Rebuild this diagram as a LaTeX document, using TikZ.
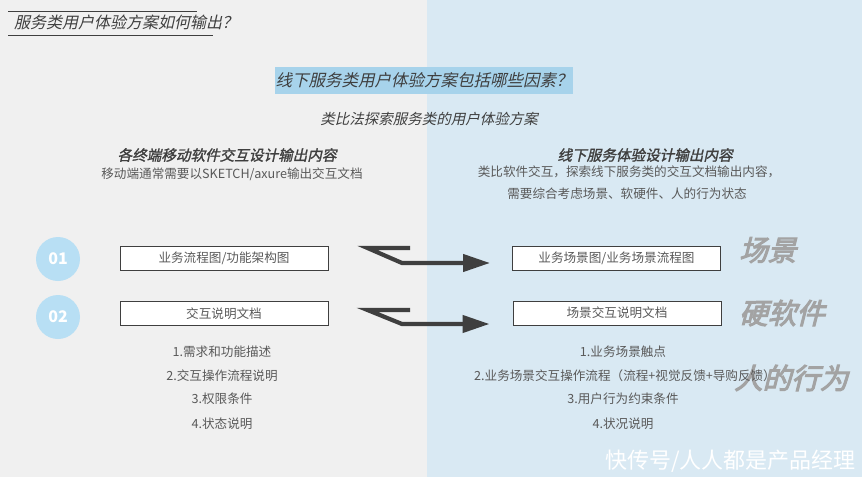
\documentclass[tikz,border=0pt]{standalone}
\usepackage{fontspec}
\setmainfont{Noto Sans CJK SC}
\newfontfamily\cjkit[FakeSlant=0.22]{Noto Sans CJK SC}
\newfontfamily\cjkbi[FakeSlant=0.22,FakeBold=1.5]{Noto Sans CJK SC}
\newfontfamily\cjkbb[FakeSlant=0.25,FakeBold=3.5]{Noto Sans CJK SC}
\usetikzlibrary{arrows.meta}
\definecolor{bgleft}{HTML}{F0F0F0}
\definecolor{bgright}{HTML}{D9E9F3}
\definecolor{hilite}{HTML}{A7D3EB}
\definecolor{circ}{HTML}{B8DFF4}
\definecolor{txt}{HTML}{595959}
\definecolor{dark}{HTML}{3F3F3F}
\definecolor{side}{HTML}{A3A3A3}
\tikzset{
  body/.style={text=txt,font=\fontsize{12.6}{14}\selectfont,inner sep=0pt},
  boxitem/.style={draw=dark,line width=0.9pt,fill=white,minimum width=208pt,minimum height=24pt,inner sep=0pt,text=txt,font=\fontsize{12.6}{14}\selectfont},
  numcirc/.style={circle,fill=circ,minimum size=44pt,inner sep=0pt,text=white,font=\fontsize{16}{16}\selectfont\bfseries},
  heading/.style={text=dark,font=\fontsize{14.6}{16}\cjkbi,inner sep=0pt},
  sidelab/.style={text=side,font=\fontsize{28.5}{30}\cjkbb,inner sep=0pt},
  kink/.style={draw=dark,line width=4.2pt,line join=miter,-{Triangle[length=27pt,width=17pt]}}
}
\begin{document}
\begin{tikzpicture}[x=1pt,y=-1pt]
\path[use as bounding box] (0,0) rectangle (862,477);
\fill[bgleft] (0,0) rectangle (427,477);
\fill[bgright] (427,0) rectangle (862,477);
% title
\node[anchor=west,text=dark,font=\fontsize{16}{18}\cjkit,inner sep=0pt] (title) at (14,22) {服务类用户体验方案如何输出？};
\draw[dark,line width=0.8pt] (8,11) -- (197,11);
\draw[dark,line width=0.8pt] (8,35) -- (213,35);
% highlight
\node[fill=hilite,minimum width=298pt,minimum height=27pt,inner sep=0pt,text=dark,font=\fontsize{16.5}{18}\cjkit] (q) at (424,80.5) {线下服务类用户体验方案包括哪些因素？};
\node[text=dark,font=\fontsize{14.5}{16}\cjkit,inner sep=0pt] (sub) at (429,119) {类比法探索服务类的用户体验方案};
% headings
\node[heading] (lh) at (227,155) {各终端移动软件交互设计输出内容};
\node[body] (ls) at (232,174) {移动端通常需要以SKETCH/axure输出交互文档};
\node[heading] (rh) at (645,155) {线下服务体验设计输出内容};
\node[body] (rs1) at (629,172) {类比软件交互，探索线下服务类的交互文档输出内容，};
\node[body] (rs2) at (627,194) {需要综合考虑场景、软硬件、人的行为状态};
% circles
\node[numcirc] (c1) at (58,259) {01};
\node[numcirc] (c2) at (58,317) {02};
% boxes
\node[boxitem] (l1) at (224,258) {业务流程图/功能架构图};
\node[boxitem] (l2) at (224,313.5) {交互说明文档};
\node[boxitem] (r1) at (616.5,258) {业务场景图/业务场景流程图};
\node[boxitem] (r2) at (617,313) {场景交互说明文档};
% arrows
\coordinate (a1s) at (410,248);
\coordinate (a1k) at (367.5,248);
\coordinate (a1m) at (402,263);
\coordinate (a1e) at ([xshift=-22pt,yshift=5pt]r1.west);
\draw[kink] (a1s) -- (a1k) -- (a1m) -- (a1m -| a1e);
\coordinate (a2s) at (410,310);
\coordinate (a2k) at (367.5,310);
\coordinate (a2m) at (402,324);
\coordinate (a2e) at ([xshift=-23pt,yshift=11pt]r2.west);
\draw[kink] (a2s) -- (a2k) -- (a2m) -- (a2m -| a2e);
% side labels (behind list text)
\node[sidelab,anchor=west] (s1) at (739,250) {场景};
\node[sidelab,anchor=west] (s2) at (739,313) {硬软件};
\node[sidelab,anchor=west] (s3) at (734,378) {人的行为};
% lists
\node[body] (li1) at (222,352) {1.需求和功能描述};
\node[body] (li2) at (222,376) {2.交互操作流程说明};
\node[body] (li3) at (222,399) {3.权限条件};
\node[body] (li4) at (222,424) {4.状态说明};
\node[body] (ri1) at (623,352) {1.业务场景触点};
\node[body] (ri2) at (625,376) {2.业务场景交互操作流程（流程+视觉反馈+导购反馈）};
\node[body] (ri3) at (623,399) {3.用户行为约束条件};
\node[body] (ri4) at (623,424) {4.状况说明};
% watermark
\node[anchor=east,text=white,font=\fontsize{22}{24}\selectfont,inner sep=0pt] (wm) at (856,461) {快传号/人人都是产品经理};
\end{tikzpicture}
\end{document}
